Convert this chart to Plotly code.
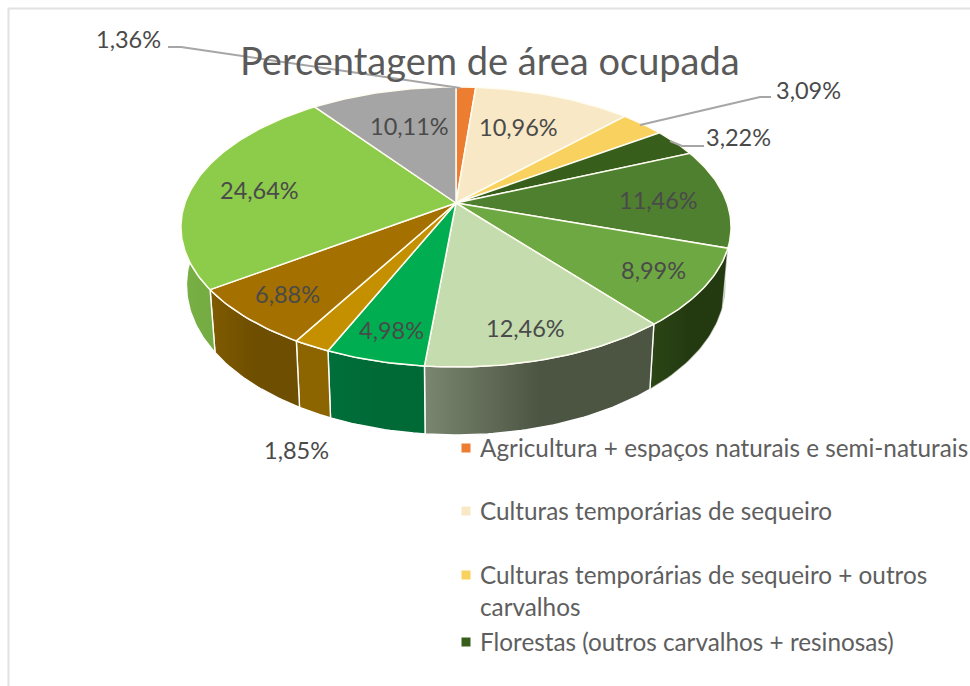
import math
import plotly.graph_objects as go

# ---------- data ----------
title = "Percentagem de área ocupada"
shares = [1.36, 10.96, 3.09, 3.22, 11.46, 8.99, 12.46, 4.98, 1.85, 6.88, 24.64, 10.11]
series_names = [
    "Agricultura + espaços naturais e semi-naturais",
    "Culturas temporárias de sequeiro",
    "Culturas temporárias de sequeiro + outros carvalhos",
    "Florestas (outros carvalhos + resinosas)",
    "Série 5", "Série 6", "Série 7", "Série 8", "Série 9", "Série 10", "Série 11", "Série 12",
]
top_colors = ["#ED7D31", "#F8E8C6", "#F9D15F", "#375F1B", "#4F8030", "#6EA842",
              "#C4DCAE", "#00AD50", "#C49000", "#A47000", "#8DCB4B", "#A5A5A5"]
wall_fills = [
    ("#B85F20", "#B85F20"), ("#BDB08F", "#BDB08F"), ("#B89A40", "#B89A40"),
    ("#24400F", "#24400F"), ("#35591F", "#2E4E1A"), ("#2C4616", "#233A10"),
    ("#7A8670", "#4C5542"), ("#006F3A", "#006A36"), ("#8C6500", "#8C6500"),
    ("#7F5B00", "#6E4E00"), ("#78B045", "#6FA63F"), ("#777777", "#777777"),
]

# ---------- layout of the picture ----------
CX, CY = 456, 203
A, B, C = 271, 135.9, 0.171   # perspective of the disc
DEPTH_SIDE, DEPTH_FRONT, BOTTOM_SCALE = 56, 68, 0.98
INK = "#4A4A4A"
FONT = "Lato, Carlito, Calibri, sans-serif"
label_centres = [(128, 39), (518, 127), (808, 90), (738, 137), (658, 200), (653, 270),
                 (525, 328), (391, 330), (296, 450), (287, 294), (259, 190), (409, 126)]
legend_rows = [
    (448, 0, "Agricultura + espaços naturais e semi-naturais"),
    (511, 1, "Culturas temporárias de sequeiro"),
    (575, 2, "Culturas temporárias de sequeiro + outros<br>carvalhos"),
    (642, 3, "Florestas (outros carvalhos + resinosas)"),
]


def project(frac):
    """Fraction of the full turn (clockwise from 12 o'clock) -> rim pixel."""
    t = 2 * math.pi * frac
    u, v = math.sin(t), math.cos(t)
    d = 1 + C * v
    return CX + A * u / d, CY - B * v / d


def fracs(f0, f1):
    n = max(2, int((f1 - f0) * 360))
    return [f0 + (f1 - f0) * i / n for i in range(n + 1)]


def lower(frac):
    x, y = project(frac)
    depth = DEPTH_SIDE + (DEPTH_FRONT - DEPTH_SIDE) * abs(math.cos(2 * math.pi * frac))
    return CX + (x - CX) * BOTTOM_SCALE, y + depth


fig = go.Figure()

# frame of the pasted picture
fig.add_trace(go.Scatter(x=[8.5, 8.5, 970], y=[686, 8.5, 8.5], mode="lines",
                         line=dict(color="#E2E2E2", width=2), hoverinfo="skip"))

bounds = []
running = 0.0
total = sum(shares)
for s in shares:
    bounds.append((running / total, (running + s) / total))
    running += s

# side walls (the discs are painted over the back parts)
for i, (f0, f1) in enumerate(bounds):
    fr = fracs(f0, f1)
    poly = [project(f) for f in fr] + [lower(f) for f in reversed(fr)] + [project(fr[0])]
    c0, c1 = wall_fills[i]
    fig.add_trace(go.Scatter(
        x=[p[0] for p in poly], y=[p[1] for p in poly], mode="lines", fill="toself",
        line=dict(color="#FFFFFF" if i > 5 else "rgba(255,255,255,0.6)", width=1.4),
        fillgradient=dict(type="horizontal", colorscale=[[0, c0], [0.5, c1], [1, c1]]),
        name=series_names[i], hoverinfo="skip",
    ))

# top faces
for i, (f0, f1) in enumerate(bounds):
    arc = [project(f) for f in fracs(f0, f1)]
    poly = [(CX, CY)] + arc + [(CX, CY)]
    fig.add_trace(go.Scatter(
        x=[p[0] for p in poly], y=[p[1] for p in poly], mode="lines", fill="toself",
        fillcolor=top_colors[i], line=dict(color="#FFFDF2", width=1.5),
        name=series_names[i], text=f"{shares[i]:.2f}%".replace(".", ","), hoverinfo="name+text",
    ))

# leader lines
leaders = [
    [(168, 47), (181, 47), (project(bounds[0][0] + 0.003)[0], project(bounds[0][0])[1] + 1)],
    [(771, 97), (760, 97), (640, 125)],
    [(704, 146), (682, 146), (670, 141)],
]
for pts in leaders:
    fig.add_trace(go.Scatter(x=[p[0] for p in pts], y=[p[1] for p in pts], mode="lines",
                             line=dict(color="#A6A6A6", width=2), hoverinfo="skip"))

# legend markers
fig.add_trace(go.Scatter(
    x=[466] * len(legend_rows), y=[r[0] for r in legend_rows], mode="markers",
    marker=dict(symbol="square", size=9, color=[top_colors[r[1]] for r in legend_rows]),
    hoverinfo="skip",
))

annotations = [dict(x=490, y=60, text=title, showarrow=False, xanchor="center", yanchor="middle",
                    font=dict(family=FONT, size=38, color="#5A5A5A"))]
for s, (x, y) in zip(shares, label_centres):
    annotations.append(dict(x=x, y=y, text=f"{s:.2f}%".replace(".", ","), showarrow=False,
                            xanchor="center", yanchor="middle",
                            font=dict(family=FONT, size=23.5, color=INK)))
for y, _, text in legend_rows:
    annotations.append(dict(x=478, y=y - 1 + (16 if "<br>" in text else 0), text=text, showarrow=False,
                            xanchor="left", yanchor="middle", align="left",
                            font=dict(family=FONT, size=24.3, color="#5E5E5E")))

fig.update_layout(
    width=970, height=686, margin=dict(l=0, r=0, t=0, b=0),
    paper_bgcolor="white", plot_bgcolor="white", showlegend=False,
    xaxis=dict(range=[0, 970], visible=False, fixedrange=True),
    yaxis=dict(range=[686, 0], visible=False, fixedrange=True),
    annotations=annotations,
)
fig.write_html("out.html", post_script="document.body.style.margin='0';", config={"displayModeBar": False})
